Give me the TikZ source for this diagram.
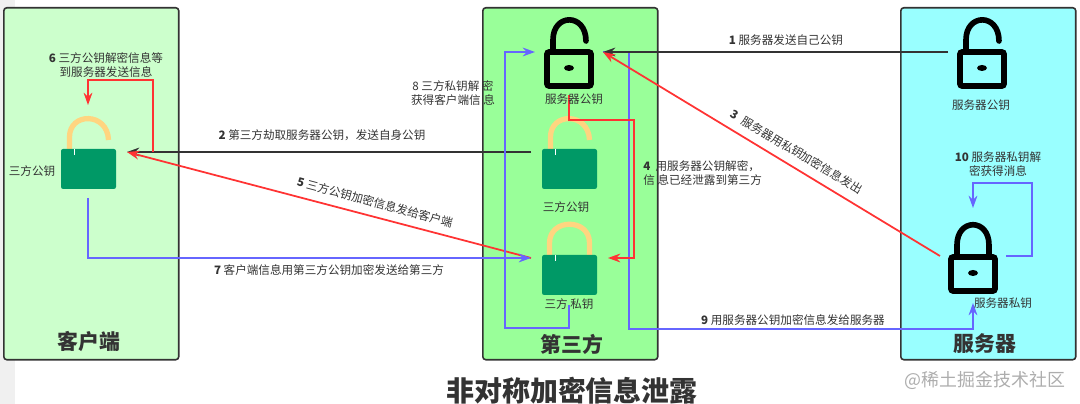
\documentclass[tikz,border=0pt]{standalone}
\usepackage{fontspec}
\setmainfont{Noto Sans CJK SC}
\usepackage{tikz}
\usetikzlibrary{arrows.meta}
\definecolor{clientgreen}{HTML}{CCFFCC}
\definecolor{thirdgreen}{HTML}{99FF99}
\definecolor{servercyan}{HTML}{99FFFF}
\definecolor{lockgreen}{HTML}{009966}
\definecolor{lockgold}{HTML}{FFD580}
\definecolor{inkgray}{HTML}{333333}
\definecolor{redline}{HTML}{FF3333}
\definecolor{blueline}{HTML}{6666FF}
\tikzset{
  panel/.style={draw=inkgray, line width=0.9pt, rounded corners=1.7pt, anchor=north west, minimum width=3.5cm, minimum height=7.04cm},
  paneltitle/.style={font=\fontsize{11.9pt}{13pt}\selectfont\bfseries, text=inkgray},
  steplabel/.style={font=\fontsize{6.6pt}{7.9pt}\selectfont, text=inkgray, align=center, inner sep=0pt},
  darkarrow/.style={->, draw=inkgray, line width=1pt},
  redarrow/.style={->, draw=redline, line width=1pt},
  bluearrow/.style={->, draw=blueline, line width=1pt},
  greenbody/.pic={\fill[lockgreen, rounded corners=1.2pt] (-27.5,0) rectangle (27.5,40);
    \draw[white, line width=1.1pt] (-14,0) -- (-14,6);},
  greenopen/.pic={\draw[lockgold, line width=3pt] (-19,1) -- (-19,-12) .. controls (-19,-37) and (19,-37) .. (20,-9);
    \pic {greenbody};},
  greenclosed/.pic={\draw[lockgold, line width=3pt] (-20,1) -- (-20,-12) .. controls (-20,-37) and (20,-37) .. (20,-12) -- (20,1);
    \pic {greenbody};},
  blackbody/.pic={\draw[black, line width=3.2pt, rounded corners=1.2pt] (-22,0) rectangle (22,34);
    \fill[black] (0,16) ellipse (5 and 3);},
  blackopen/.pic={\draw[black, line width=3.2pt, line cap=round] (-16,0) -- (-16,-12) .. controls (-16,-39) and (17,-39) .. (17,-11);
    \pic {blackbody};},
  blackclosed/.pic={\draw[black, line width=3.2pt] (-16,0) -- (-16,-12) .. controls (-16,-39) and (16,-39) .. (16,-12) -- (16,0);
    \pic {blackbody};},
}
\begin{document}
\begin{tikzpicture}[>={Stealth[length=7pt,width=5pt]}, x=0.02cm, y=-0.02cm]
\useasboundingbox (0,0) rectangle (1080,404);
\fill[black!6] (0,0) rectangle (15,404);
% three columns
\node[panel, fill=clientgreen] (client) at (3,7) {};
\node[panel, fill=thirdgreen] (third) at (482,7) {};
\node[panel, fill=servercyan] (server) at (900,7) {};
\node[paneltitle] (clienttitle) at (89,342) {客户端};
\node[paneltitle] (thirdtitle) at (572,344) {第三方};
\node[paneltitle] (servertitle) at (985,344) {服务器};
% locks
\pic at (88.5,149) {greenopen};
\pic at (569.5,149) {greenopen};
\pic at (569.5,255) {greenclosed};
\pic at (569,52) {blackopen};
\pic at (982,52) {blackopen};
\pic at (973,257) {blackclosed};
% connector ends
\coordinate (clientin) at (127,152);
\coordinate (clienttop) at (88,105);
\coordinate (clientout) at (153,152);
\coordinate (clientbot) at (88,198);
\coordinate (thirdpub) at (531,152);
\coordinate (thirdin) at (531,258);
\coordinate (thirdred) at (608,258);
\coordinate (thirdbot) at (569,305);
\coordinate (keyin) at (603,52);
\coordinate (keyleft) at (535,52);
\coordinate (keybot) at (569,95);
\coordinate (srvpub) at (948,52);
\coordinate (srvout) at (940,256);
\coordinate (srvright) at (1006,256);
\coordinate (srvtop) at (973,208);
\coordinate (srvbot) at (973,303);
% steps
\draw[bluearrow] (keyin) -- (629,52) -- (629,329) -- (973,329) -- (srvbot);
\draw[darkarrow] (srvpub) -- (keyin);
\draw[darkarrow] (thirdpub) -- (clientin);
\draw[redarrow] (srvout) -- (keyin);
\draw[redarrow] (keybot) -- (569,120) -- (634,120) -- (634,258) -- (thirdred);
\draw[redarrow] (thirdin) -- (clientin);
\draw[redarrow] (clientout) -- (153,80) -- (88,80) -- (clienttop);
\draw[bluearrow] (clientbot) -- (88,258) -- (thirdin);
\draw[bluearrow] (thirdbot) -- (569,328) -- (505,328) -- (505,52) -- (keyleft);
\draw[bluearrow] (srvright) -- (1032,256) -- (1032,183) -- (973,183) -- (srvtop);
% lock names
\node[steplabel] (clientkey) at (32,171) {三方公钥};
\node[steplabel] (keyname) at (574,99) {服务器公钥};
\node[steplabel] (pubname) at (566,207) {三方公钥};
\node[steplabel] (privname) at (569,304) {三方 私钥};
\node[steplabel] (srvpubname) at (981,105) {服务器公钥};
\node[steplabel] (srvprivname) at (1003,303) {服务器私钥};
% step labels
\node[steplabel] (one) at (786,40) {\textbf{1} 服务器发送自己公钥};
\node[steplabel] (two) at (322,135) {\textbf{2} 第三方劫取服务器公钥，发送自身公钥};
\node[steplabel, rotate=-31] (three) at (797,152) {\textbf{3}\ \ 服务器用私钥加密信息发出};
\node[steplabel, align=left, anchor=west] (four) at (643,173) {\textbf{4}\ \ 用服务器公钥解密，\\信 息已经泄露到第三方};
\node[steplabel, rotate=-15] (five) at (375,202) {\textbf{5} 三方公钥加密信息发给客户端};
\node[steplabel] (six) at (106,65) {\textbf{6} 三方公钥解密信息等\\到服务器发送信息};
\node[steplabel] (seven) at (329,270) {\textbf{7} 客户端信息用第三方公钥加密发送给第三方};
\node[steplabel] (eight) at (453,93) {8 三方私钥解 密\\获得客户端信 息};
\node[steplabel] (nine) at (793,320) {\textbf{9} 用服务器公钥加密信息发给服务器};
\node[steplabel] (ten) at (998,164) {\textbf{10} 服务器私钥解\\密获得消息};
% caption
\node[font=\fontsize{15.9pt}{17pt}\selectfont\bfseries, text=inkgray, inner sep=0pt] (caption) at (572,391) {非对称加密信息泄露};
\node[font=\fontsize{10.2pt}{11pt}\selectfont, text=black!32, inner sep=0pt] (mark) at (985,380) {@稀土掘金技术社区};
\end{tikzpicture}
\end{document}
